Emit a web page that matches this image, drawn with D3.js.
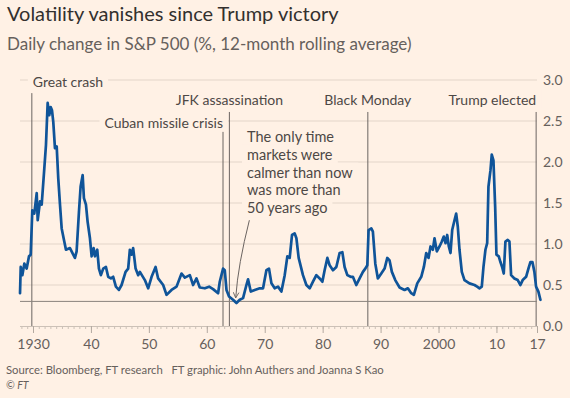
<!DOCTYPE html>
<html>
<head>
<meta charset="utf-8">
<script src="https://cdn.jsdelivr.net/npm/d3@7"></script>
<style>
  html, body { margin: 0; padding: 0; background: #fff1e5; }
  svg { display: block; font-family: Lato, "Noto Sans", sans-serif; }
</style>
</head>
<body>
<svg id="chart" width="570" height="398"></svg>
<script>
// ---- Data ----
const years = [1927.76,1927.88,1928.16,1928.5,1928.91,1929.31,1929.6,1929.88,1930.22,1930.64,1930.81,1931.21,1931.5,1931.95,1932.24,1932.53,1932.81,1933.05,1933.28,1933.5,1933.79,1934.09,1934.36,1934.66,1934.95,1935.4,1935.69,1936.38,1936.95,1937.24,1937.53,1937.93,1938.22,1938.57,1938.79,1939.14,1939.43,1939.83,1940.12,1940.47,1940.69,1941.09,1941.38,1941.72,1942.12,1942.59,1942.98,1943.45,1943.84,1944.31,1944.83,1945.29,1945.98,1946.43,1946.72,1947.02,1947.29,1947.71,1948.16,1948.45,1949.31,1949.88,1950.47,1951.16,1951.6,1952.47,1953.05,1953.91,1954.78,1955.64,1956.21,1957.07,1957.64,1958.22,1958.79,1959.66,1960.4,1961.09,1961.95,1962.24,1962.81,1963.1,1963.4,1963.84,1964.53,1965.12,1965.69,1966.26,1966.84,1967.12,1967.59,1968.28,1969.14,1969.71,1970.29,1970.74,1971.16,1971.72,1972.29,1972.88,1973.45,1973.91,1974.31,1974.71,1975.17,1975.47,1975.86,1976.6,1977.19,1977.76,1978.33,1978.91,1979.48,1979.95,1980.34,1980.81,1981.21,1981.78,1982.36,1982.93,1983.4,1983.79,1984.26,1984.83,1985.22,1985.81,1986.38,1986.95,1987.36,1987.71,1987.93,1988.4,1988.67,1989.09,1989.53,1990.12,1990.69,1991.16,1991.55,1991.95,1992.53,1993.28,1994.14,1994.71,1995.29,1995.74,1996.33,1997.02,1997.47,1997.88,1998.28,1998.62,1999.02,1999.31,1999.71,2000.17,2000.57,2000.91,2001.21,2001.5,2001.78,2002.07,2002.36,2002.76,2003.05,2003.33,2003.62,2004.02,2004.48,2005.34,2006.21,2006.67,2007.07,2007.47,2007.76,2008.1,2008.4,2008.62,2008.97,2009.19,2009.48,2009.78,2010.0,2010.4,2010.69,2010.98,2011.26,2011.55,2011.95,2012.24,2012.53,2013.1,2013.67,2014.14,2014.53,2015.12,2015.52,2015.86,2016.21,2016.55,2016.84,2017.24,2017.59];
const volatility = [0.40,0.72,0.62,0.76,0.70,0.85,0.87,1.41,1.37,1.62,1.29,1.52,1.48,1.92,2.21,2.72,2.57,2.67,2.63,2.49,2.17,2.19,1.80,1.48,1.19,1.03,0.93,0.95,0.87,0.83,0.91,1.39,1.70,1.84,1.56,1.48,1.27,1.07,0.85,0.95,0.85,0.93,0.70,0.62,0.70,0.72,0.60,0.58,0.60,0.48,0.44,0.50,0.66,0.70,0.93,0.87,0.95,0.70,0.62,0.66,0.56,0.46,0.60,0.72,0.58,0.50,0.38,0.44,0.48,0.64,0.59,0.62,0.50,0.58,0.47,0.46,0.48,0.45,0.40,0.54,0.70,0.68,0.44,0.36,0.32,0.28,0.32,0.34,0.50,0.57,0.42,0.44,0.46,0.46,0.68,0.70,0.52,0.46,0.48,0.42,0.62,0.85,0.83,1.11,1.13,1.07,0.83,0.62,0.50,0.46,0.54,0.62,0.58,0.54,0.68,0.83,0.74,0.68,0.72,0.89,0.90,0.72,0.62,0.60,0.60,0.50,0.58,0.66,0.70,0.74,1.17,1.19,1.15,0.76,0.58,0.64,0.70,0.83,0.80,0.66,0.56,0.47,0.44,0.46,0.40,0.38,0.52,0.60,0.72,0.89,0.83,0.97,0.93,1.07,0.91,0.97,1.03,1.09,1.01,1.11,0.97,0.89,1.17,1.29,1.37,1.21,0.93,0.66,0.56,0.52,0.50,0.48,0.46,0.48,0.72,0.93,1.01,1.70,1.90,2.09,2.02,1.45,0.87,0.85,0.78,0.72,0.64,1.03,1.05,1.03,0.62,0.58,0.56,0.50,0.56,0.60,0.70,0.78,0.78,0.66,0.48,0.42,0.32];
const currentLevel = 0.3;
const yTicks = [0, 0.5, 1.0, 1.5, 2.0, 2.5, 3.0];
const xTicks = [1930, 1940, 1950, 1960, 1970, 1980, 1990, 2000, 2010, 2017];
const xTickLabels = ["1930", "40", "50", "60", "70", "80", "90", "2000", "10", "17"];
const events = [
  {name: "Great crash", year: 1929.8, top: 2.84, labelY: 2.976, anchor: "start"},
  {name: "Cuban missile crisis", year: 1962.8, top: 2.37, labelY: 2.48, anchor: "end"},
  {name: "JFK assassination", year: 1963.9, top: 2.61, labelY: 2.76, anchor: "middle"},
  {name: "Black Monday", year: 1987.8, top: 2.61, labelY: 2.76, anchor: "middle"},
  {name: "Trump elected", year: 2016.85, top: 2.61, labelY: 2.76, anchor: "end"}
];
const noteLines = ["The only time", "markets were", "calmer than now", "was more than", "50 years ago"];

// ---- Layout ----
const bg = "#fff1e5";
const svg = d3.select("#chart");
svg.append("rect").attr("width", 570).attr("height", 398).attr("fill", bg);

const x = d3.scaleLinear().domain([1930, 2017]).range([33, 537]);
const y = d3.scaleLinear().domain([0, 3]).range([326, 80]);
const plotLeft = 20, plotRight = 537;

// title
svg.append("text").attr("x", 7).attr("y", 21).attr("fill", "#33302e")
  .attr("font-size", 20).text("Volatility vanishes since Trump victory");
svg.append("text").attr("x", 7).attr("y", 50).attr("fill", "#66605c")
  .attr("font-size", 17).text("Daily change in S&P 500 (%, 12-month rolling average)");

// gridlines
svg.append("g").selectAll("line").data(yTicks.filter(d => d > 0)).join("line")
  .attr("x1", plotLeft).attr("x2", plotRight)
  .attr("y1", d => y(d)).attr("y2", d => y(d))
  .attr("stroke", "#e3d5c9").attr("stroke-width", 1);

// right axis labels
svg.append("g").selectAll("text").data(yTicks).join("text")
  .attr("x", 543).attr("y", d => y(d) + 5)
  .attr("fill", "#66605c").attr("font-size", 14)
  .text(d => d.toFixed(1));

// x axis
const xAxis = d3.axisBottom(x)
  .tickValues(d3.range(1928, 2018))
  .tickSize(3).tickFormat("");
const gx = svg.append("g").attr("transform", `translate(0,${y(0)})`).call(xAxis);
gx.select(".domain").attr("stroke", "#ccc1b7").attr("d", `M${plotLeft},0.5H${plotRight}`);
gx.selectAll(".tick line").attr("stroke", "#ccc1b7");
const gx2 = svg.append("g").attr("transform", `translate(0,${y(0)})`)
  .call(d3.axisBottom(x).tickValues(xTicks).tickSize(7).tickFormat((d, i) => xTickLabels[i]));
gx2.select(".domain").remove();
gx2.selectAll(".tick line").attr("stroke", "#b3a9a0");
gx2.selectAll(".tick text").attr("fill", "#66605c").attr("font-size", 14)
  .attr("font-family", "Lato, 'Noto Sans', sans-serif").attr("dy", "0.95em");

// text-with-mask helper
function maskedText(g, xPos, yPos, txt, anchor, size, color) {
  const t = g.append("text").attr("x", xPos).attr("y", yPos)
    .attr("text-anchor", anchor).attr("font-size", size).attr("fill", color).text(txt);
  const b = t.node().getBBox();
  g.insert("rect", () => t.node())
    .attr("x", b.x - 5).attr("y", b.y - 1).attr("width", b.width + 10).attr("height", b.height + 2)
    .attr("fill", bg);
  return t;
}

// event lines and labels
const evG = svg.append("g");
events.forEach(e => {
  evG.append("line").attr("x1", x(e.year)).attr("x2", x(e.year))
    .attr("y1", y(e.top)).attr("y2", y(0))
    .attr("stroke", "#6b6461").attr("stroke-width", 1);
});
events.forEach(e => {
  const lx = e.anchor === "start" ? x(e.year) + 1 : x(e.year);
  maskedText(evG, lx, y(e.labelY) + 5, e.name, e.anchor, 14, "#4d4845");
});

// annotation text
const noteG = svg.append("g");
noteLines.forEach((l, i) => {
  maskedText(noteG, 247, 142 + i * 17.8, l, "start", 14.5, "#4d4845");
});
// arrow
const defs = svg.append("defs");
defs.append("marker").attr("id", "ah").attr("viewBox", "0 0 10 10")
  .attr("refX", 8).attr("refY", 5).attr("markerWidth", 7).attr("markerHeight", 7)
  .attr("orient", "auto")
  .append("path").attr("d", "M1,1L9,5L1,9").attr("fill", "none").attr("stroke", "#6b6461").attr("stroke-width", 1.3);
svg.append("path")
  .attr("d", `M${x(1967.35)},${y(1.29)} Q${x(1965.4)},${y(0.75)} ${x(1965.0)},${y(0.35)}`)
  .attr("fill", "none").attr("stroke", "#6b6461").attr("stroke-width", 1)
  .attr("marker-end", "url(#ah)");

// current level line
svg.append("line").attr("x1", plotLeft).attr("x2", plotRight)
  .attr("y1", y(currentLevel)).attr("y2", y(currentLevel))
  .attr("stroke", "#8a827c").attr("stroke-width", 1);

// series
const line = d3.line().x((d, i) => x(years[i])).y(d => y(d)).curve(d3.curveLinear);
svg.append("path").datum(volatility).attr("d", line)
  .attr("fill", "none").attr("stroke", "#0f5499").attr("stroke-width", 2.7)
  .attr("stroke-linejoin", "round").attr("stroke-linecap", "round");

// footer
svg.append("text").attr("x", 6).attr("y", 374).attr("fill", "#66605c").attr("font-size", 11.3)
  .text("Source: Bloomberg, FT research   FT graphic: John Authers and Joanna S Kao")
  .attr("xml:space", "preserve").style("white-space", "pre");
svg.append("text").attr("x", 6).attr("y", 389).attr("fill", "#66605c").attr("font-size", 10.5)
  .attr("font-style", "italic").text("© FT");
</script>
</body>
</html>
